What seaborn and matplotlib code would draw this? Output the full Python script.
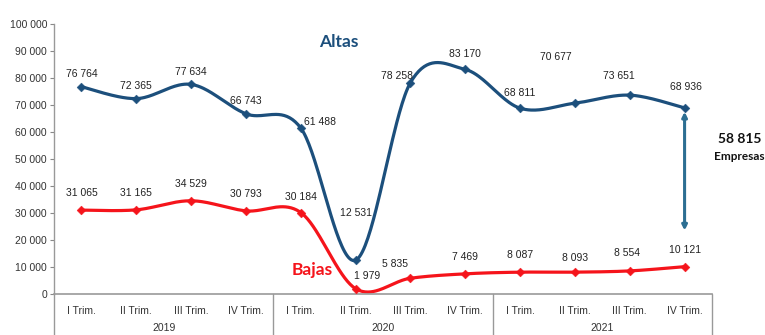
import matplotlib
matplotlib.use('Agg')
import matplotlib.pyplot as plt
import matplotlib.transforms as mtransforms
import seaborn as sns
import numpy as np
import pandas as pd

# Data
quarters = ['I Trim.', 'II Trim.', 'III Trim.', 'IV Trim.'] * 3
years = ['2019', '2020', '2021']
altas = [76764, 72365, 77634, 66743, 61488, 12531, 78258, 83170, 68811, 70677, 73651, 68936]
bajas = [31065, 31165, 34529, 30793, 30184, 1979, 5835, 7469, 8087, 8093, 8554, 10121]
y_ticks = list(range(0, 100001, 10000))
net_label = '58 815'

# label offsets (points) for each data label
altas_off = [(0, 9), (0, 9), (0, 9), (0, 9), (14, 4), (0, 34), (-10, 5), (0, 11), (0, 11), (-14, 33), (-8, 14), (1, 15)]
bajas_off = [(0, 12), (0, 12), (0, 12), (0, 12), (0, 11), (8, 9), (-11, 10), (0, 12), (0, 12), (0, 10), (-2, 13), (0, 12)]

BLUE = '#1c4f7c'
RED = '#f5141b'
ARROW = '#2c6e92'

sns.set_style('white')
plt.rcParams['font.family'] = ['Liberation Sans Narrow', 'Liberation Sans', 'DejaVu Sans']


def fmt(v):
    return f'{v:,}'.replace(',', ' ')


def smooth(y, n=40):
    """Excel-like smoothed line (Catmull-Rom through the points)"""
    y = np.asarray(y, dtype=float)
    x = np.arange(len(y), dtype=float)
    px = np.concatenate([[x[0]], x, [x[-1]]])
    py = np.concatenate([[y[0]], y, [y[-1]]])
    xs, ys = [], []
    for i in range(1, len(px) - 2):
        t = np.linspace(0, 1, n, endpoint=False)
        for p, out in ((px, xs), (py, ys)):
            p0, p1, p2, p3 = p[i - 1], p[i], p[i + 1], p[i + 2]
            c1 = p1 + (p2 - p0) / 6
            c2 = p2 - (p3 - p1) / 6
            out.extend((1 - t) ** 3 * p1 + 3 * (1 - t) ** 2 * t * c1 + 3 * (1 - t) * t ** 2 * c2 + t ** 3 * p2)
    xs.append(x[-1])
    ys.append(y[-1])
    return pd.DataFrame({'x': xs, 'y': ys})


fig = plt.figure(figsize=(7.65, 3.35), dpi=100)
ax = fig.add_axes([54 / 765, 41 / 335, 658 / 765, 270 / 335])

x = np.arange(len(altas))
for vals, col in ((altas, BLUE), (bajas, RED)):
    sns.lineplot(data=smooth(vals), x='x', y='y', color=col, lw=2.3, ax=ax,
                 sort=False, estimator=None)
    sns.scatterplot(x=x, y=vals, color=col, marker='D', s=20, edgecolor=col, ax=ax, zorder=3)

for xi, v, off in zip(x, altas, altas_off):
    ax.annotate(fmt(v), (xi, v), xytext=off, textcoords='offset points',
                ha='center', va='center', fontsize=7.5, color='#222222')
for xi, v, off in zip(x, bajas, bajas_off):
    ax.annotate(fmt(v), (xi, v), xytext=off, textcoords='offset points',
                ha='center', va='center', fontsize=7.5, color='#222222')

ax.text(4.7, 93500, 'Altas', color=BLUE, fontsize=12.5, fontweight='bold',
        family=['Lato', 'DejaVu Sans'], ha='center', va='center')
ax.text(4.2, 9000, 'Bajas', color=RED, fontsize=12.5, fontweight='bold',
        family=['Lato', 'DejaVu Sans'], ha='center', va='center')

# difference arrow
ax.annotate('', xy=(11, 23500), xytext=(11, 67500),
            arrowprops=dict(arrowstyle='<|-|>', color=ARROW, lw=2.2,
                            mutation_scale=7, shrinkA=0, shrinkB=0))
ax.text(12.0, 57300, net_label, fontsize=10, fontweight='bold', ha='center', va='center',
        family=['Lato', 'DejaVu Sans'], color='#111111', clip_on=False)
ax.text(12.0, 50800, 'Empresas', fontsize=8.5, fontweight='bold', ha='center', va='center',
        family=['Lato', 'DejaVu Sans'], color='#111111', clip_on=False)

ax.set_xlim(-0.5, 11.5)
ax.set_ylim(0, 100000)
ax.set_yticks(y_ticks)
ax.set_yticklabels([fmt(v) for v in y_ticks], fontsize=7.5, color='#333333')
ax.tick_params(axis='y', length=3, width=0.8, color='#888888', pad=2, left=True)
ax.set_xticks(x)
ax.set_xticklabels(quarters, fontsize=7.5, color='#333333')
ax.tick_params(axis='x', length=0, pad=9)
ax.set_xlabel('')
ax.set_ylabel('')

for s in ['top', 'right']:
    ax.spines[s].set_visible(False)
ax.spines['left'].set_color('#999999')
ax.spines['bottom'].set_color('#999999')
ax.spines['left'].set_linewidth(1)
ax.spines['bottom'].set_linewidth(1.2)

# category group separators and year labels
trans = mtransforms.blended_transform_factory(ax.transData, ax.transAxes)
for xb in (-0.5, 3.5, 7.5, 11.5):
    ax.plot([xb, xb], [0, -0.2], transform=trans, color='#999999', lw=1, clip_on=False)
for i, yr in enumerate(years):
    ax.text(4 * i + 1.5, -0.143, yr, transform=trans, fontsize=7.5, color='#333333',
            ha='center', va='bottom', clip_on=False)

fig.savefig('out.png', dpi=100)
